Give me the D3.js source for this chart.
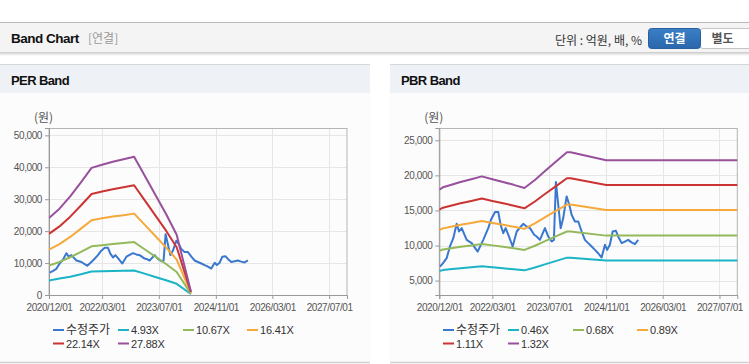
<!DOCTYPE html>
<html><head><meta charset="utf-8">
<script src="https://cdn.jsdelivr.net/npm/d3@7"></script>
<style>
body{margin:0;background:#fff;}
svg{display:block;}
</style></head>
<body>
<svg id="c" width="749" height="364"></svg>
<script>
// ---------- DATA ----------
const xTickLabels = ["2020/12/01","2022/03/01","2023/07/01","2024/11/01","2026/03/01","2027/07/01"];
const xDomain = ["2020/12/01","2027/12/01"];

const perYTicks = [0,10000,20000,30000,40000,50000];
const pbrYTicks = [5000,10000,15000,20000,25000];

const priceDates = ["2020-12-07","2021-01-02","2021-02-02","2021-03-03","2021-03-31","2021-04-29","2021-05-19","2021-06-11","2021-07-01","2021-07-24","2021-09-05","2021-10-26","2021-12-13","2022-01-25","2022-02-17","2022-03-24","2022-04-21","2022-05-11","2022-06-03","2022-06-23","2022-07-16","2022-08-22","2022-09-26","2022-11-01","2022-11-21","2022-12-20","2023-01-18","2023-02-23","2023-03-16","2023-04-13","2023-05-26","2023-06-23","2023-07-23","2023-08-11","2023-08-28","2023-09-17","2023-10-08","2023-10-30","2023-11-28","2023-12-21","2024-01-10","2024-02-07","2024-03-07","2024-04-05","2024-05-03","2024-05-31","2024-06-30","2024-07-28","2024-08-25","2024-09-23","2024-10-22","2024-11-10","2024-12-03","2024-12-27","2025-01-24","2025-02-12","2025-03-14","2025-04-11","2025-05-09","2025-06-07","2025-07-06","2025-08-03"];
const priceValues = [7000,7500,8200,9900,11050,13100,12000,12480,11700,10800,10340,9140,10810,12480,13670,14770,14770,12950,11760,12480,11530,9860,12000,12710,13100,12710,12480,11530,11290,10810,12480,11290,10570,10810,19060,15810,12480,13910,17000,15810,14380,13430,13430,12000,10810,10340,9860,9380,8900,8290,10100,9380,10100,12000,12100,11290,10340,10570,10810,10450,10200,10810];

const perDates = ["2020-12-01","2021-03-01","2021-06-01","2021-09-01","2021-12-01","2022-03-01","2022-06-01","2022-09-01","2022-12-01","2023-03-01","2023-06-01","2023-09-01","2023-12-01","2024-04-01"];
const per493  = [4560,5150,5700,6500,7350,7430,7510,7600,7690,6700,5650,4600,3500,300];
const per1067 = [9230,10350,11822,13508,15237,15610,15962,16261,16570,14319,12025,9710,7213,427];
const per1641 = [14195,15918,18182,20775,23433,24008,24549,25009,25485,22022,18494,14933,11093,656];
const per2214 = [19151,21476,24531,28029,31616,32391,33121,33741,34383,29712,24952,20147,14967,886];
const per2788 = [24116,27044,30891,35296,39813,40788,41708,42489,43298,37415,31421,25371,18847,1115];

const pbrDates = ["2020-12-01","2021-01-01","2021-03-01","2021-06-01","2021-09-01","2021-12-01","2022-03-01","2022-06-01","2022-09-01","2022-12-01","2023-03-01","2023-06-01","2023-09-01","2023-12-01","2024-01-01","2024-11-01","2027-12-01"];
const pbr046 = [6376,6497,6603,6763,6905,7050,6905,6763,6621,6461,6869,7349,7810,8272,8272,7863,7863];
const pbr068 = [9253,9428,9583,9815,10021,10232,10021,9815,9608,9377,9969,10665,11334,12004,12004,11412,11412];
const pbr089 = [12213,12444,12648,12954,13226,13505,13226,12954,12682,12376,13158,14076,14960,15844,15844,15062,15062];
const pbr111 = [15103,15388,15641,16019,16356,16700,16356,16019,15683,15304,16271,17407,18500,19593,19593,18626,18626];
const pbr132 = [17960,18300,18600,19050,19450,19860,19450,19050,18650,18200,19350,20700,22000,23300,23300,22150,22150];

const perLabels = ["수정주가","4.93X","10.67X","16.41X","22.14X","27.88X"];
const pbrLabels = ["수정주가","0.46X","0.68X","0.89X","1.11X","1.32X"];
const seriesColors = ["#3a78d0","#1bb4c6","#93b95a","#f4a93a","#cc3333","#98509c"];

// ---------- DRAW ----------
const svg = d3.select("#c");
const parseT = d3.timeParse("%Y-%m-%d");
const parseS = d3.timeParse("%Y/%m/%d");
const FONT = "'Liberation Sans', Arial, 'Noto Sans CJK KR', sans-serif";
const KFONT = "'Noto Sans CJK KR', 'Liberation Sans', sans-serif";

// page header
svg.append("rect").attr("x",0).attr("y",0).attr("width",749).attr("height",364).attr("fill","#fff");
const defs = svg.append("defs");
const sh = defs.append("linearGradient").attr("id","shadow").attr("x1",0).attr("y1",0).attr("x2",0).attr("y2",1);
sh.append("stop").attr("offset","0%").attr("stop-color","#d8d8d8");
sh.append("stop").attr("offset","100%").attr("stop-color","#ffffff");
const bg = defs.append("linearGradient").attr("id","btn").attr("x1",0).attr("y1",0).attr("x2",0).attr("y2",1);
bg.append("stop").attr("offset","0%").attr("stop-color","#3b7fc6");
bg.append("stop").attr("offset","100%").attr("stop-color","#2a66ab");

svg.append("rect").attr("x",0).attr("y",22).attr("width",749).attr("height",30).attr("fill","#f4f4f4");
svg.append("line").attr("x1",0).attr("x2",749).attr("y1",22.5).attr("y2",22.5).attr("stroke","#b9b9b9");
svg.append("line").attr("x1",0).attr("x2",749).attr("y1",52.5).attr("y2",52.5).attr("stroke","#cfcfcf");
svg.append("rect").attr("x",0).attr("y",53).attr("width",749).attr("height",3).attr("fill","url(#shadow)");
svg.append("text").attr("x",11).attr("y",43).attr("font-family",FONT).attr("font-weight","bold")
  .attr("font-size",13.5).attr("letter-spacing",-0.5).attr("fill","#111").text("Band Chart");
svg.append("text").attr("x",88).attr("y",43).attr("font-family",KFONT)
  .attr("font-size",12).attr("fill","#9a9a9a").text("[연결]");
svg.append("text").attr("x",642).attr("y",44.5).attr("text-anchor","end").attr("font-family",KFONT)
  .attr("font-size",12).attr("fill","#333").text("단위 : 억원, 배, %");
svg.append("rect").attr("x",700).attr("y",28.5).attr("width",54).attr("height",20).attr("rx",3)
  .attr("fill","#fff").attr("stroke","#c4c4c4");
svg.append("rect").attr("x",648.5).attr("y",28.5).attr("width",52).attr("height",20).attr("rx",3)
  .attr("fill","url(#btn)").attr("stroke","#2a5f9e");
svg.append("text").attr("x",674.5).attr("y",43).attr("text-anchor","middle").attr("font-family",KFONT)
  .attr("font-weight","bold").attr("font-size",12).attr("fill","#fff").text("연결");
svg.append("text").attr("x",722.5).attr("y",43).attr("text-anchor","middle").attr("font-family",KFONT)
  .attr("font-weight","bold").attr("font-size",12).attr("fill","#555").text("별도");

function drawPanel(cfg){
  const g = svg.append("g");
  const px = cfg.px, pw = cfg.pw;
  g.append("rect").attr("x",px).attr("y",64).attr("width",pw).attr("height",299).attr("fill","#fcfcfc");
  g.append("rect").attr("x",px).attr("y",64).attr("width",pw).attr("height",29).attr("fill","#eef2f7");
  g.append("line").attr("x1",px).attr("x2",px+pw).attr("y1",64.5).attr("y2",64.5).attr("stroke","#d6d6d6");
  g.append("line").attr("x1",px).attr("x2",px+pw).attr("y1",362.5).attr("y2",362.5).attr("stroke","#d0d0d0").attr("stroke-width",1.5);
  g.append("text").attr("x",px+11).attr("y",85).attr("font-family",FONT).attr("font-weight","bold")
    .attr("font-size",13).attr("letter-spacing",-0.6).attr("fill","#111").text(cfg.title);

  const x = d3.scaleTime().domain(xDomain.map(parseS)).range([cfg.x0, cfg.x1]);
  const y = d3.scaleLinear().domain(cfg.yDomain).range([cfg.y1, cfg.y0]);

  // grid
  const tickDates = xTickLabels.map(parseS);
  g.append("g").selectAll("line").data(cfg.yTicks).join("line")
    .attr("x1",cfg.x0).attr("x2",cfg.x1).attr("y1",d=>Math.round(y(d))+0.5).attr("y2",d=>Math.round(y(d))+0.5)
    .attr("stroke","#e6e6e6");
  g.append("g").selectAll("line").data(tickDates.slice(1)).join("line")
    .attr("x1",d=>Math.round(x(d))+0.5).attr("x2",d=>Math.round(x(d))+0.5).attr("y1",cfg.y0).attr("y2",cfg.y1)
    .attr("stroke","#e6e6e6");
  // frame
  g.append("rect").attr("x",cfg.x0).attr("y",cfg.y0+0.5).attr("width",cfg.x1-cfg.x0).attr("height",cfg.y1-cfg.y0)
    .attr("fill","none").attr("stroke","#b5b5b5");

  // axes
  const yAxis = d3.axisLeft(y).tickValues(cfg.yTicks).tickFormat(d3.format(",")).tickSize(4).tickPadding(3);
  const ya = g.append("g").attr("transform",`translate(${cfg.x0},0)`).call(yAxis);
  const xAxis = d3.axisBottom(x).tickValues(tickDates).tickFormat(d3.timeFormat("%Y/%m/%d")).tickSize(4).tickPadding(3);
  const xa = g.append("g").attr("transform",`translate(0,${cfg.y1})`).call(xAxis);
  [ya,xa].forEach(a=>{
    a.select(".domain").attr("stroke","#999");
    a.selectAll(".tick line").attr("stroke","#999");
    a.selectAll(".tick text").attr("fill","#555").attr("font-family",FONT).attr("font-size",10).attr("letter-spacing",-0.4);
  });
  xa.selectAll(".tick text").attr("dy","0.9em");
  g.append("text").attr("x",cfg.x0-5.5).attr("y",121.5).attr("text-anchor","middle").attr("font-family",KFONT)
    .attr("font-size",12).attr("fill","#555").text("(원)");

  // lines
  const clip = "clip"+px;
  defs.append("clipPath").attr("id",clip).append("rect").attr("x",cfg.x0).attr("y",cfg.y0-2).attr("width",cfg.x1-cfg.x0+1).attr("height",cfg.y1-cfg.y0+3);
  const lg = g.append("g").attr("clip-path",`url(#${clip})`);
  const line = d3.line().x(d=>x(d[0])).y(d=>y(d[1]));
  const pricePts = priceDates.map((d,i)=>[parseT(d),priceValues[i]]);
  lg.append("path").datum(pricePts).attr("d",line).attr("fill","none").attr("stroke",seriesColors[0])
    .attr("stroke-width",2).attr("stroke-linejoin","round");
  cfg.bands.forEach((vals,k)=>{
    const pts = cfg.bandDates.map((d,i)=>[parseT(d),vals[i]]);
    lg.append("path").datum(pts).attr("d",line).attr("fill","none").attr("stroke",seriesColors[k+1])
      .attr("stroke-width",2).attr("stroke-linejoin","round");
  });

  // legend
  const colX = [53,118,183,247], rowY = [330,343.5];
  cfg.labels.forEach((lab,i)=>{
    const cx = px + colX[i<4?i:i-4], cy = rowY[i<4?0:1];
    g.append("line").attr("x1",cx).attr("x2",cx+11).attr("y1",cy).attr("y2",cy)
      .attr("stroke",seriesColors[i]).attr("stroke-width",2);
    const hangul = /[\uAC00-\uD7A3]/.test(lab);
    g.append("text").attr("x",cx+13).attr("y",cy+4).attr("font-family",hangul?KFONT:FONT)
      .attr("font-size",hangul?12:11).attr("letter-spacing",hangul?0:-0.2).attr("fill","#333").text(lab);
  });
}

drawPanel({px:0,pw:370,title:"PER Band",x0:49,x1:347,y0:128,y1:295,yDomain:[0,52300],yTicks:perYTicks,
  bandDates:perDates,bands:[per493,per1067,per1641,per2214,per2788],labels:perLabels});
drawPanel({px:390,pw:359,title:"PBR Band",x0:439.3,x1:737.3,y0:128,y1:295,yDomain:[2950,26750],yTicks:pbrYTicks,
  bandDates:pbrDates,bands:[pbr046,pbr068,pbr089,pbr111,pbr132],labels:pbrLabels});
</script>
</body></html>
